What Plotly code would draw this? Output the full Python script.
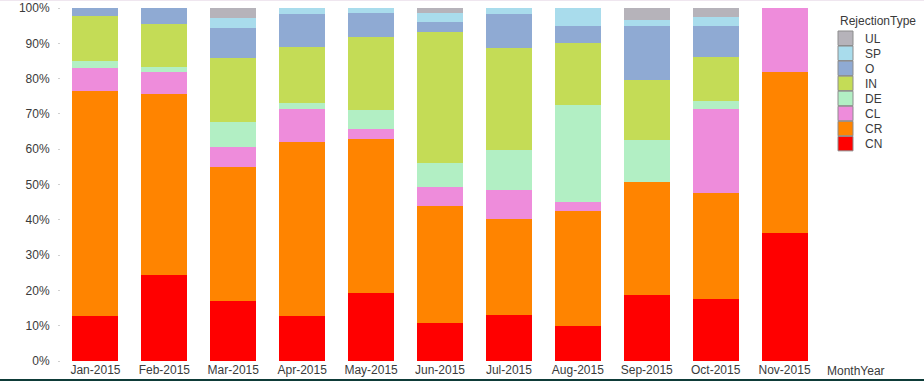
import plotly.graph_objects as go

months = ["Jan-2015", "Feb-2015", "Mar-2015", "Apr-2015", "May-2015", "Jun-2015",
          "Jul-2015", "Aug-2015", "Sep-2015", "Oct-2015", "Nov-2015"]

# percentage share of each rejection type per month (bottom to top of stack)
CN = [12.8, 24.3, 16.9, 12.7, 19.2, 10.7, 13.0, 9.8, 18.6, 17.5, 36.2]
CR = [63.7, 51.3, 38.0, 49.3, 43.7, 33.2, 27.2, 32.6, 32.0, 30.0, 45.7]
CL = [6.5, 6.2, 5.7, 9.3, 2.8, 5.3, 8.2, 2.6, 0.0, 23.8, 18.1]
DE = [2.0, 1.5, 7.1, 1.7, 5.4, 6.8, 11.3, 27.5, 11.9, 2.3, 0.0]
IN = [12.8, 12.2, 18.1, 15.9, 20.7, 37.2, 29.0, 17.6, 17.0, 12.5, 0.0]
O = [2.2, 4.5, 8.5, 9.4, 6.7, 2.8, 9.6, 4.8, 15.4, 8.8, 0.0]
SP = [0.0, 0.0, 2.8, 1.7, 1.5, 2.6, 1.7, 5.1, 1.7, 2.6, 0.0]
UL = [0.0, 0.0, 2.9, 0.0, 0.0, 1.4, 0.0, 0.0, 3.4, 2.5, 0.0]

series_names = ["CN", "CR", "CL", "DE", "IN", "O", "SP", "UL"]
series_values = [CN, CR, CL, DE, IN, O, SP, UL]
colors = {
    "CN": "#ff0000", "CR": "#ff8400", "CL": "#ee8cdb", "DE": "#b2efc4",
    "IN": "#c4dc56", "O": "#8faad3", "SP": "#a9dcec", "UL": "#b6b3ba",
}

W, H = 924, 381
ML, MR, MT, MB = 61, 105, 8, 20
PW, PH = W - ML - MR, H - MT - MB


def px(x):
    return (x - ML) / PW


def py(y):
    return (H - MB - y) / PH


fig = go.Figure()
for name, vals in zip(series_names, series_values):
    fig.add_trace(go.Bar(
        x=months, y=vals, name=name, width=0.667,
        marker=dict(color=colors[name], line=dict(width=0)),
        hovertemplate="%{x}<br>" + name + ": %{y:.1f}%<extra></extra>",
    ))

font_family = "Liberation Sans, Arial, sans-serif"
text_color = "#3a3a3a"

shapes = []
annotations = []

# manual legend
annotations.append(dict(
    x=px(838), y=py(21.5), xref="paper", yref="paper", text="RejectionType",
    showarrow=False, xanchor="left", yanchor="middle",
    font=dict(family=font_family, size=12, color=text_color)))
legend_order = ["UL", "SP", "O", "IN", "DE", "CL", "CR", "CN"]
for i, name in enumerate(legend_order):
    top = 31 + 15.05 * i
    shapes.append(dict(
        type="rect", xref="paper", yref="paper",
        x0=px(838), x1=px(853), y0=py(top), y1=py(top + 14.5),
        fillcolor=colors[name], line=dict(color="#8c8c8c", width=1)))
    annotations.append(dict(
        x=px(863), y=py(top + 7.5), xref="paper", yref="paper", text=name,
        showarrow=False, xanchor="left", yanchor="middle",
        font=dict(family=font_family, size=12, color=text_color)))

# axis title for categories
annotations.append(dict(
    x=px(825), y=py(370.5), xref="paper", yref="paper", text="MonthYear",
    showarrow=False, xanchor="left", yanchor="middle",
    font=dict(family=font_family, size=12, color=text_color)))

# frame lines (top faint, bottom dark)
shapes.append(dict(type="line", xref="paper", yref="paper",
                   x0=px(0), x1=px(W), y0=py(0.5), y1=py(0.5),
                   line=dict(color="#efe6ef", width=1)))
shapes.append(dict(type="line", xref="paper", yref="paper",
                   x0=px(0), x1=px(W), y0=py(380), y1=py(380),
                   line=dict(color="#0e3b38", width=2)))

fig.update_layout(
    barmode="stack",
    width=W, height=H,
    margin=dict(l=ML, r=MR, t=MT, b=MB, pad=0, autoexpand=False),
    paper_bgcolor="white", plot_bgcolor="white",
    showlegend=False,
    bargap=0.333,
    font=dict(family=font_family, size=12, color=text_color),
    shapes=shapes, annotations=annotations,
    xaxis=dict(
        range=[-0.5, 10.5], showgrid=False, zeroline=False, showline=False,
        ticks="", tickfont=dict(size=12, color=text_color),
        ticklabelstandoff=0, automargin=False,
    ),
    yaxis=dict(
        range=[0, 100], dtick=10, ticksuffix="%", showgrid=False, zeroline=False,
        showline=False, ticks="outside", ticklen=2, tickcolor="#d0d0d0",
        tickfont=dict(size=12, color=text_color), ticklabelstandoff=6,
        automargin=False,
    ),
)

fig.write_html("out.html", config={"displayModeBar": False},
               post_script="document.body.style.margin='0';")
